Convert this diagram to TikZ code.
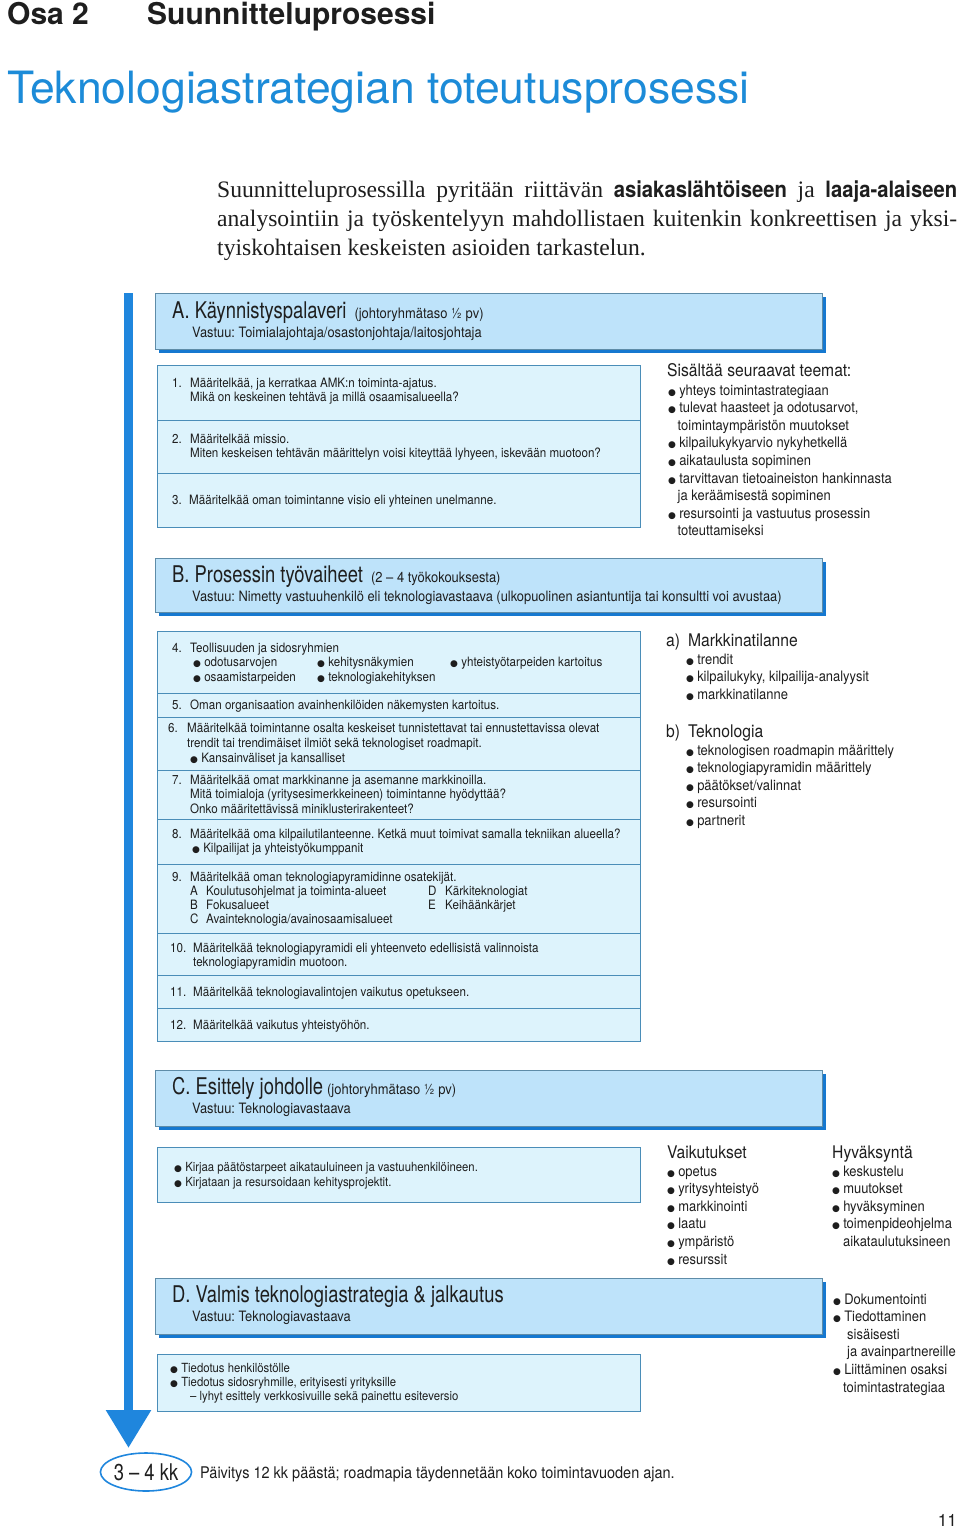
\documentclass[tikz,border=0pt]{standalone}
\usepackage{fontspec}
\usepackage{tikz}
\usepackage{xcolor}
\usetikzlibrary{arrows.meta, shapes.geometric, shadows}
\setmainfont{Liberation Serif}
\setsansfont{TeX Gyre Heros}
\newfontfamily\cnd[FakeStretch=0.9]{TeX Gyre Heros}
\newfontfamily\ttl[FakeStretch=0.8]{TeX Gyre Heros}
\newfontfamily\symf{DejaVu Sans}
\newcommand{\fsz}[2]{\fontsize{#1}{#2}\selectfont}
\newcommand{\blt}{{\symf\fontsize{9}{9}\selectfont ●}\hspace{3.2pt}}
\newcommand{\stk}[1]{\begin{tabular}[t]{@{}l@{}}#1\end{tabular}}
\frenchspacing
\definecolor{barblue}{HTML}{1F86DD}
\definecolor{headfill}{HTML}{BEE3FA}
\definecolor{headline}{HTML}{5E8CA8}
\definecolor{shadowblue}{HTML}{1578D0}
\definecolor{boxfill}{HTML}{DDF3FC}
\definecolor{boxline}{HTML}{4A8DB8}
\definecolor{titleblue}{HTML}{1C8BD8}
\definecolor{ink}{HTML}{1E1E1E}

\begin{document}
\begin{tikzpicture}[x=1pt, y=-1pt]
\tikzstyle{head} = [draw=headline, fill=headfill, line width=0.7pt, anchor=north west, minimum width=667pt, inner sep=0pt, drop shadow={shadow xshift=4pt, shadow yshift=-4pt, fill=shadowblue, opacity=1}]
\tikzstyle{panel} = [draw=boxline, fill=boxfill, line width=0.9pt, anchor=north west, minimum width=483pt, inner sep=0pt]
\tikzstyle{divider} = [draw=boxline, line width=0.9pt]
\tikzstyle{txt} = [anchor=base west, inner sep=0pt, align=left, text=ink]
\tikzstyle{item} = [txt, font=\cnd\fsz{12.9}{14.6}]
\tikzstyle{lst} = [txt, font=\cnd\fsz{14.4}{17.6}]
\tikzstyle{lsthead} = [txt, font=\cnd\fsz{17.4}{17.4}]
\tikzstyle{htitle} = [txt, font=\ttl\fsz{23}{23}]
\tikzstyle{vastuu} = [txt, font=\cnd\fsz{14.3}{14.3}]
\useasboundingbox (0,0) rectangle (960,1529);

% page heading
\node[txt, font=\sffamily\bfseries\fsz{30}{30}] (osa) at (7,24) {Osa 2};
\node[txt, font=\sffamily\bfseries\fsz{30}{30}] (chap) at (147,24) {Suunnitteluprosessi};
\node[txt, font=\sffamily\fsz{44.5}{44.5}, text=titleblue] (title) at (7,103) {Teknologiastrategian toteutusprosessi};
\node[txt, font=\fsz{23.6}{29}] (intro) at (217,197) {\stk{\makebox[740pt][s]{Suunnitteluprosessilla pyritään riittävän {\cnd\bfseries\fsz{22.5}{29}asiakaslähtöiseen} ja {\cnd\bfseries\fsz{22.5}{29}laaja-alaiseen}}\\\makebox[740pt][s]{analysointiin ja työskentelyyn mahdollistaen kuitenkin konkreettisen ja yksi-}\\tyiskohtaisen keskeisten asioiden tarkastelun.}};

% process arrow
\coordinate (bartop) at (128.5,293);
\coordinate (bartip) at (128.5,1448);
\draw[barblue, line width=9pt, -{Triangle[width=43pt, length=38pt]}] (bartop) -- (bartip);

% A
\node[head, minimum height=56pt] (hA) at (155,293) {};
\node[htitle] (hAt) at (172,318) {A. Käynnistyspalaveri\hspace{8pt}{\cnd\fsz{14.4}{14.4}(johtoryhmätaso ½ pv)}};
\node[vastuu] (hAv) at (192,337) {Vastuu: Toimialajohtaja/osastonjohtaja/laitosjohtaja};
\node[panel, minimum height=162pt] (pA) at (157,365) {};
\foreach \y in {420,473} \draw[divider] (157,\y) -- (640,\y);
\node[item] (i1) at (172,387) {\stk{\makebox[18pt][l]{1.}Määritelkää, ja kerratkaa AMK:n toiminta-ajatus.\\\hspace*{18pt}Mikä on keskeinen tehtävä ja millä osaamisalueella?}};
\node[item] (i2) at (172,443) {\stk{\makebox[18pt][l]{2.}Määritelkää missio.\\\hspace*{18pt}Miten keskeisen tehtävän määrittelyn voisi kiteyttää lyhyeen, iskevään muotoon?}};
\node[item] (i3) at (172,504) {\makebox[17pt][l]{3.}Määritelkää oman toimintanne visio eli yhteinen unelmanne.};
\node[lsthead] (themes) at (667,376) {Sisältää seuraavat teemat:};
\node[lst] (themelist) at (668,395) {\stk{\blt yhteys toimintastrategiaan\\\blt tulevat haasteet ja odotusarvot,\\\hspace*{9.5pt}toimintaympäristön muutokset\\\blt kilpailukykyarvio nykyhetkellä\\\blt aikataulusta sopiminen\\\blt tarvittavan tietoaineiston hankinnasta\\\hspace*{9.5pt}ja keräämisestä sopiminen\\\blt resursointi ja vastuutus prosessin\\\hspace*{9.5pt}toteuttamiseksi}};

% B
\node[head, minimum height=54pt] (hB) at (155,558) {};
\node[htitle] (hBt) at (172,582) {B. Prosessin työvaiheet\hspace{8pt}{\cnd\fsz{14.4}{14.4}(2 – 4 työkokouksesta)}};
\node[vastuu] (hBv) at (192,601) {Vastuu: Nimetty vastuuhenkilö eli teknologiavastaava (ulkopuolinen asiantuntija tai konsultti voi avustaa)};
\node[panel, minimum height=410pt] (pB) at (157,631) {};
\foreach \y in {693,717,770,819,864,933,975,1008} \draw[divider] (157,\y) -- (640,\y);
\node[item] (i4) at (172,652) {\stk{\makebox[18pt][l]{4.}Teollisuuden ja sidosryhmien\\\hspace*{21pt}\makebox[124pt][l]{\blt odotusarvojen}\makebox[133pt][l]{\blt kehitysnäkymien}\blt yhteistyötarpeiden kartoitus\\\hspace*{21pt}\makebox[124pt][l]{\blt osaamistarpeiden}\blt teknologiakehityksen}};
\node[item] (i5) at (172,709) {\makebox[18pt][l]{5.}Oman organisaation avainhenkilöiden näkemysten kartoitus.};
\node[item, font=\cnd\fsz{12.9}{15.4}] (i6) at (168,732) {\stk{\makebox[19pt][l]{6.}Määritelkää toimintanne osalta keskeiset tunnistettavat tai ennustettavissa olevat\\\hspace*{19pt}trendit tai trendimäiset ilmiöt sekä teknologiset roadmapit.\\\hspace*{22pt}\blt Kansainväliset ja kansalliset}};
\node[item] (i7) at (172,784) {\stk{\makebox[18pt][l]{7.}Määritelkää omat markkinanne ja asemanne markkinoilla.\\\hspace*{18pt}Mitä toimialoja (yritysesimerkkeineen) toimintanne hyödyttää?\\\hspace*{18pt}Onko määritettävissä miniklusterirakenteet?}};
\node[item] (i8) at (172,838) {\stk{\makebox[18pt][l]{8.}Määritelkää oma kilpailutilanteenne. Ketkä muut toimivat samalla tekniikan alueella?\\\hspace*{20pt}\blt Kilpailijat ja yhteistyökumppanit}};
\node[item, font=\cnd\fsz{12.9}{14}] (i9) at (172,881) {\stk{\makebox[18pt][l]{9.}Määritelkää oman teknologiapyramidinne osatekijät.\\\hspace*{18pt}\makebox[238pt][l]{\makebox[16pt][l]{A}Koulutusohjelmat ja toiminta-alueet}\makebox[17pt][l]{D}Kärkiteknologiat\\\hspace*{18pt}\makebox[238pt][l]{\makebox[16pt][l]{B}Fokusalueet}\makebox[17pt][l]{E}Keihäänkärjet\\\hspace*{18pt}\makebox[16pt][l]{C}Avainteknologia/avainosaamisalueet}};
\node[item] (i10) at (170,952) {\stk{\makebox[23pt][l]{10.}Määritelkää teknologiapyramidi eli yhteenveto edellisistä valinnoista\\\hspace*{23pt}teknologiapyramidin muotoon.}};
\node[item] (i11) at (170,996) {\makebox[23pt][l]{11.}Määritelkää teknologiavalintojen vaikutus opetukseen.};
\node[item] (i12) at (170,1029) {\makebox[23pt][l]{12.}Määritelkää vaikutus yhteistyöhön.};
\node[lsthead] (market) at (666,646) {a)\hspace{8pt}Markkinatilanne};
\node[lst] (marketlist) at (686,664) {\stk{\blt trendit\\\blt kilpailukyky, kilpailija-analyysit\\\blt markkinatilanne}};
\node[lsthead] (tech) at (666,737) {b)\hspace{8pt}Teknologia};
\node[lst] (techlist) at (686,755) {\stk{\blt teknologisen roadmapin määrittely\\\blt teknologiapyramidin määrittely\\\blt päätökset/valinnat\\\blt resursointi\\\blt partnerit}};

% C
\node[head, minimum height=56pt] (hC) at (155,1070) {};
\node[htitle] (hCt) at (172,1094) {C. Esittely johdolle\hspace{4pt}{\cnd\fsz{14.4}{14.4}(johtoryhmätaso ½ pv)}};
\node[vastuu] (hCv) at (192,1113) {Vastuu: Teknologiavastaava};
\node[panel, minimum height=55pt] (pC) at (157,1147) {};
\node[item, font=\cnd\fsz{12.6}{15}] (c1) at (174,1171) {\stk{\blt Kirjaa päätöstarpeet aikatauluineen ja vastuuhenkilöineen.\\\blt Kirjataan ja resursoidaan kehitysprojektit.}};
\node[lsthead] (effects) at (667,1158) {Vaikutukset};
\node[lst] (effectlist) at (667,1176) {\stk{\blt opetus\\\blt yritysyhteistyö\\\blt markkinointi\\\blt laatu\\\blt ympäristö\\\blt resurssit}};
\node[lsthead] (approval) at (832,1158) {Hyväksyntä};
\node[lst] (approvallist) at (832,1176) {\stk{\blt keskustelu\\\blt muutokset\\\blt hyväksyminen\\\blt toimenpideohjelma\\\hspace*{11pt}aikataulutuksineen}};

% D
\node[head, minimum height=56pt] (hD) at (155,1278) {};
\node[htitle] (hDt) at (172,1302) {D. Valmis teknologiastrategia \& jalkautus};
\node[vastuu] (hDv) at (192,1321) {Vastuu: Teknologiavastaava};
\node[panel, minimum height=57pt] (pD) at (157,1354) {};
\node[item, font=\cnd\fsz{12.6}{14.2}] (d1) at (170,1372) {\stk{\blt Tiedotus henkilöstölle\\\blt Tiedotus sidosryhmille, erityisesti yrityksille\\\hspace*{20pt}– lyhyt esittely verkkosivuille sekä painettu esiteversio}};
\node[lst] (spread) at (833,1304) {\stk{\blt Dokumentointi\\\blt Tiedottaminen\\\hspace*{14pt}sisäisesti\\\hspace*{14pt}ja avainpartnereille\\\blt Liittäminen osaksi\\\hspace*{10pt}toimintastrategiaa}};

% duration
\node[ellipse, draw=barblue, line width=1.6pt, minimum width=88pt, minimum height=38pt, inner sep=0pt, font=\ttl\fsz{23}{23}, text=ink] (dur) at (146,1472) {3 – 4 kk};
\node[txt, font=\cnd\fsz{16.1}{16.1}] (update) at (200,1478) {Päivitys 12 kk päästä; roadmapia täydennetään koko toimintavuoden ajan.};
\node[anchor=base east, inner sep=0pt, font=\sffamily\fsz{17}{17}, text=ink] (pnum) at (957,1526) {11};
\end{tikzpicture}
\end{document}
